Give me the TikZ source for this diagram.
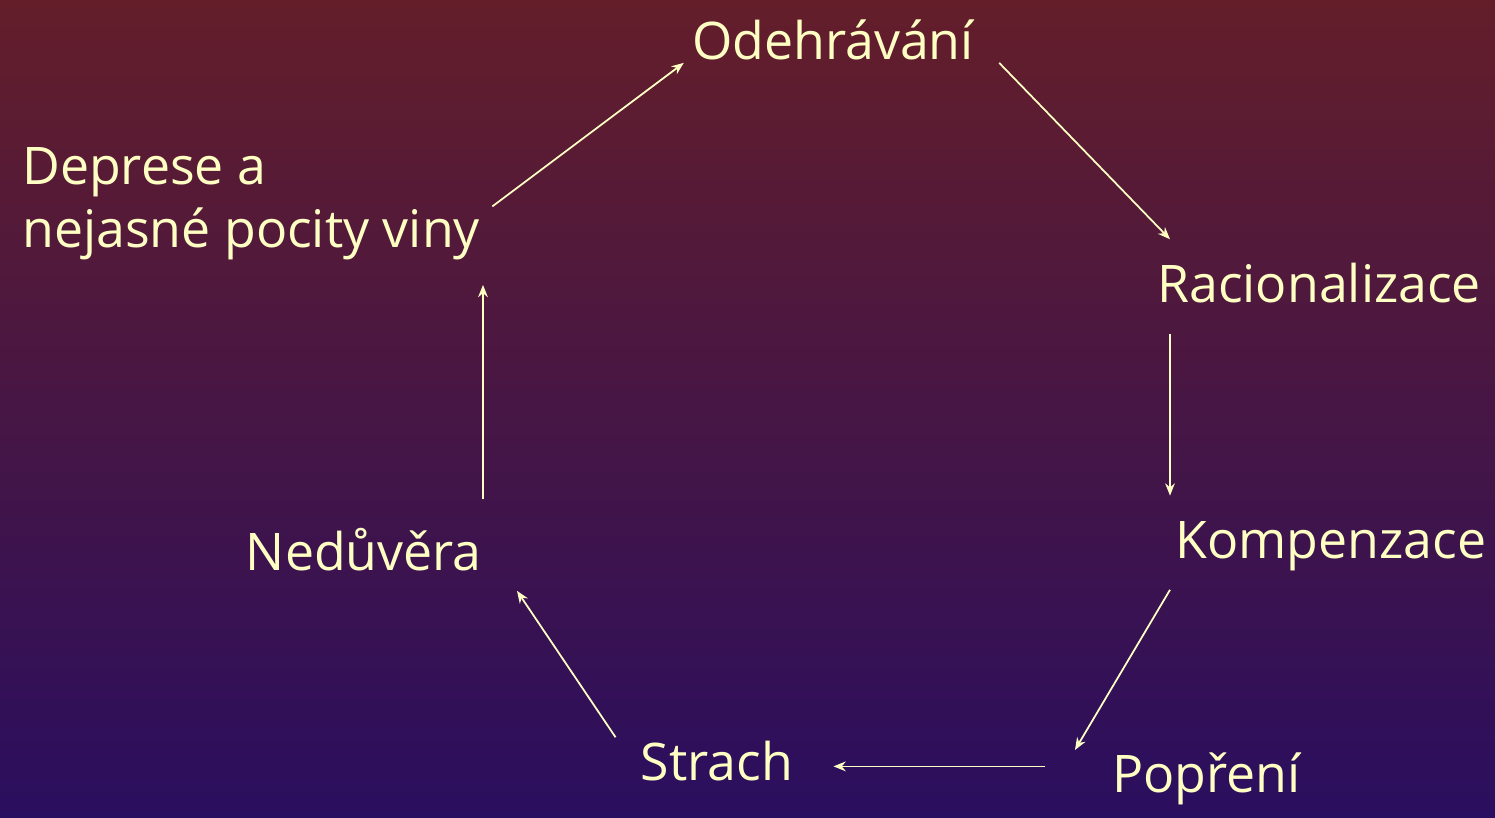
\documentclass[tikz,border=0pt]{standalone}
\usepackage{fontspec}
\setmainfont{Open Sans}
\usepackage{xcolor}
\usepackage{tikz}
\usetikzlibrary{arrows.meta}
\definecolor{bgtop}{RGB}{100,30,42}
\definecolor{bgbottom}{RGB}{42,14,95}
\definecolor{cream}{RGB}{255,255,196}

\begin{document}
\begin{tikzpicture}[x=0.02cm, y=-0.02cm,
  lbl/.style={text=cream, inner sep=0pt, font=\fontsize{29.5}{35.7}\selectfont},
  arr/.style={draw=cream, line width=1pt, -{Stealth[length=7pt,width=5.5pt]}}]
\shade[top color=bgtop, bottom color=bgbottom] (0,0) rectangle (1495,818);

\node (acting) [lbl, anchor=base] at (833,59) {Odehrávání};
\node (ratio) [lbl, anchor=base west] at (1157,302) {Racionalizace};
\node (comp) [lbl, anchor=base west] at (1175,558) {Kompenzace};
\node (denial) [lbl, anchor=base west] at (1112,792) {Popření};
\node (fear) [lbl, anchor=base] at (717,780) {Strach};
\node (distrust) [lbl, anchor=base east] at (482,570) {Nedůvěra};
\node (guilt) [lbl, anchor=north west, align=left] at (22,147) {Deprese a\\nejasné pocity viny};

\draw[arr] ([shift={(12,3)}]guilt.east) -- ([shift={(-8,3)}]acting.south west);
\draw[arr] ([shift={(25,3)}]acting.south east) -- ([shift={(13,-23)}]ratio.north west);
\draw[arr] ([shift={(13,31)}]ratio.south west) -- ([shift={(-5,-25)}]comp.north west);
\draw[arr] ([shift={(-5,19)}]comp.south west) -- ([shift={(-37,-2)}]denial.north west);
\draw[arr] ([shift={(-67,-12)}]denial.west) -- ([shift={(40,-12)}]fear.east |- denial.west);
\draw[arr] ([shift={(-25,-3)}]fear.north west) -- ([shift={(35,20)}]distrust.south east);
\draw[arr] ([shift={(1,-28)}]distrust.north east) -- ([shift={(1,25)}]distrust.north east |- guilt.south);
\end{tikzpicture}
\end{document}
